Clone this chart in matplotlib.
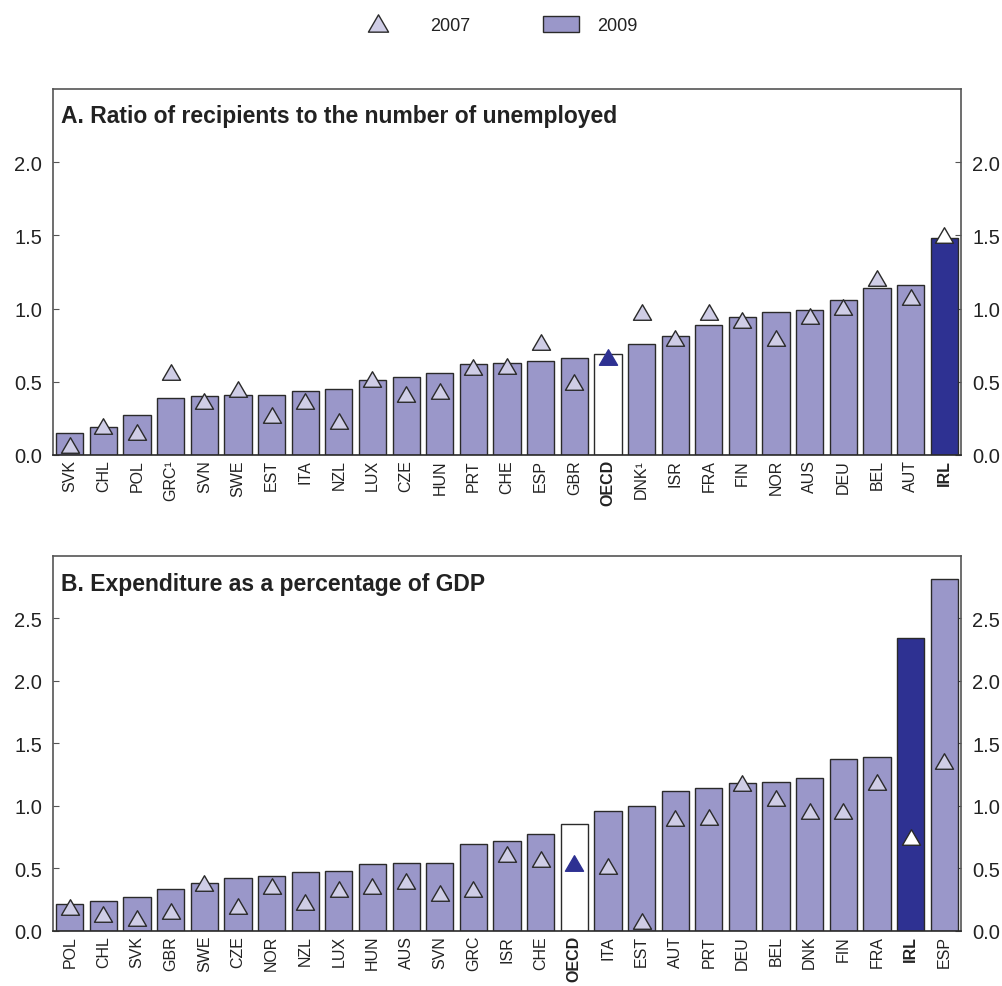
import matplotlib
matplotlib.use("Agg")
import matplotlib.pyplot as plt
from matplotlib.lines import Line2D
from matplotlib.patches import Patch
from matplotlib.path import Path
import numpy as np

plt.rcParams["font.family"] = ["Liberation Sans", "DejaVu Sans"]

# Panel A: ratio of benefit recipients to the number of unemployed
a_countries = ["SVK", "CHL", "POL", "GRC¹", "SVN", "SWE", "EST", "ITA", "NZL", "LUX",
               "CZE", "HUN", "PRT", "CHE", "ESP", "GBR", "OECD", "DNK¹", "ISR", "FRA",
               "FIN", "NOR", "AUS", "DEU", "BEL", "AUT", "IRL"]
a_2009 = [0.15, 0.19, 0.27, 0.39, 0.40, 0.41, 0.41, 0.44, 0.45, 0.51,
          0.53, 0.56, 0.62, 0.63, 0.64, 0.66, 0.69, 0.76, 0.81, 0.89,
          0.94, 0.98, 0.99, 1.06, 1.14, 1.16, 1.48]
a_2007 = [0.07, 0.20, 0.16, 0.57, 0.37, 0.45, 0.27, 0.37, 0.23, 0.52,
          0.42, 0.44, 0.60, 0.61, 0.77, 0.50, 0.67, 0.98, 0.80, 0.98,
          0.92, 0.80, 0.95, 1.01, 1.21, 1.08, 1.50]

# Panel B: expenditure as a percentage of GDP
b_countries = ["POL", "CHL", "SVK", "GBR", "SWE", "CZE", "NOR", "NZL", "LUX", "HUN",
               "AUS", "SVN", "GRC", "ISR", "CHE", "OECD", "ITA", "EST", "AUT", "PRT",
               "DEU", "BEL", "DNK", "FIN", "FRA", "IRL", "ESP"]
b_2009 = [0.21, 0.24, 0.27, 0.33, 0.38, 0.42, 0.44, 0.47, 0.48, 0.53,
          0.54, 0.54, 0.69, 0.72, 0.77, 0.85, 0.96, 1.00, 1.12, 1.14,
          1.18, 1.19, 1.22, 1.37, 1.39, 2.34, 2.81]
b_2007 = [0.19, 0.13, 0.10, 0.16, 0.38, 0.20, 0.36, 0.23, 0.33, 0.36,
          0.40, 0.30, 0.33, 0.61, 0.57, 0.54, 0.52, 0.08, 0.90, 0.91,
          1.18, 1.06, 0.96, 0.96, 1.19, 0.75, 1.36]

a_ticks = [0.0, 0.5, 1.0, 1.5, 2.0]
b_ticks = [0.0, 0.5, 1.0, 1.5, 2.0, 2.5]

BAR = "#9a97c9"
TRI = "#cfcde6"
DARK = "#2e3192"
EDGE = "#2a2a2a"
TEXT = "#222222"
SPINE = "#555555"

# slightly flattened up-pointing triangle
TRI_MARKER = Path([(-1.0, -0.86), (1.0, -0.86), (0.0, 0.86), (-1.0, -0.86)],
                  [Path.MOVETO, Path.LINETO, Path.LINETO, Path.CLOSEPOLY])


def draw_panel(ax, countries, v09, v07, ylim, yticks, title):
    x = np.arange(len(countries))
    face = []
    tri_face = []
    for c in countries:
        if c == "OECD":
            face.append("white")
            tri_face.append(DARK)
        elif c == "IRL":
            face.append(DARK)
            tri_face.append("white")
        else:
            face.append(BAR)
            tri_face.append(TRI)
    ax.bar(x, v09, width=0.81, color=face, edgecolor=EDGE, linewidth=1.0, zorder=2)
    for xi, v, fc, c in zip(x, v07, tri_face, countries):
        ec = DARK if c == "OECD" else EDGE
        ax.plot(xi, v, marker=TRI_MARKER, markersize=13, markerfacecolor=fc,
                markeredgecolor=ec, markeredgewidth=1.0, linestyle="none", zorder=3)
    ax.set_xlim(-0.5, len(countries) - 0.5)
    ax.set_ylim(*ylim)
    ax.set_yticks(yticks)
    ax.set_yticklabels([f"{t:.1f}" for t in yticks])
    ax.set_xticks(x)
    ax.set_xticklabels(countries, rotation=90)
    for lbl, c in zip(ax.get_xticklabels(), countries):
        if c in ("OECD", "IRL"):
            lbl.set_fontweight("bold")
    ax.tick_params(axis="y", direction="in", length=4, width=0.8, color=SPINE,
                   left=True, right=True, labelleft=True, labelright=True,
                   labelsize=14.5, labelcolor=TEXT, pad=8)
    ax.tick_params(axis="x", length=0, labelsize=11.5, labelcolor=TEXT, pad=3)
    for s in ax.spines.values():
        s.set_color(SPINE)
        s.set_linewidth(1.2)
    ax.spines["bottom"].set_color(EDGE)
    ax.text(0.009, 0.927, title, transform=ax.transAxes, fontsize=16.5,
            fontweight="bold", color=TEXT, va="center", ha="left")


fig = plt.figure(figsize=(10.02, 9.87), dpi=100)
ax_a = fig.add_axes([0.0529, 0.538, 0.9062, 0.3708])
ax_b = fig.add_axes([0.0529, 0.056, 0.9062, 0.380])

draw_panel(ax_a, a_countries, a_2009, a_2007, (0, 2.5), a_ticks,
           "A. Ratio of recipients to the number of unemployed")
draw_panel(ax_b, b_countries, b_2009, b_2007, (0, 3.0), b_ticks,
           "B. Expenditure as a percentage of GDP")

# legend: two entries placed side by side across the top
tri_handle = Line2D([], [], marker=TRI_MARKER, markersize=14.5, markerfacecolor=TRI,
                    markeredgecolor=EDGE, markeredgewidth=1.0, linestyle="none")
bar_handle = Patch(facecolor=BAR, edgecolor=EDGE, linewidth=1.0)
leg_kw = dict(loc="center left", frameon=False, fontsize=13, borderpad=0,
              borderaxespad=0, labelcolor=TEXT, handleheight=1.0)
fig.legend([tri_handle], ["2007"], bbox_to_anchor=(0.359, 0.9737),
           handlelength=2.0, handletextpad=1.9, **leg_kw)
fig.legend([bar_handle], ["2009"], bbox_to_anchor=(0.542, 0.9737),
           handlelength=2.0, handletextpad=1.0, **leg_kw)

fig.savefig("out.png", dpi=100)
